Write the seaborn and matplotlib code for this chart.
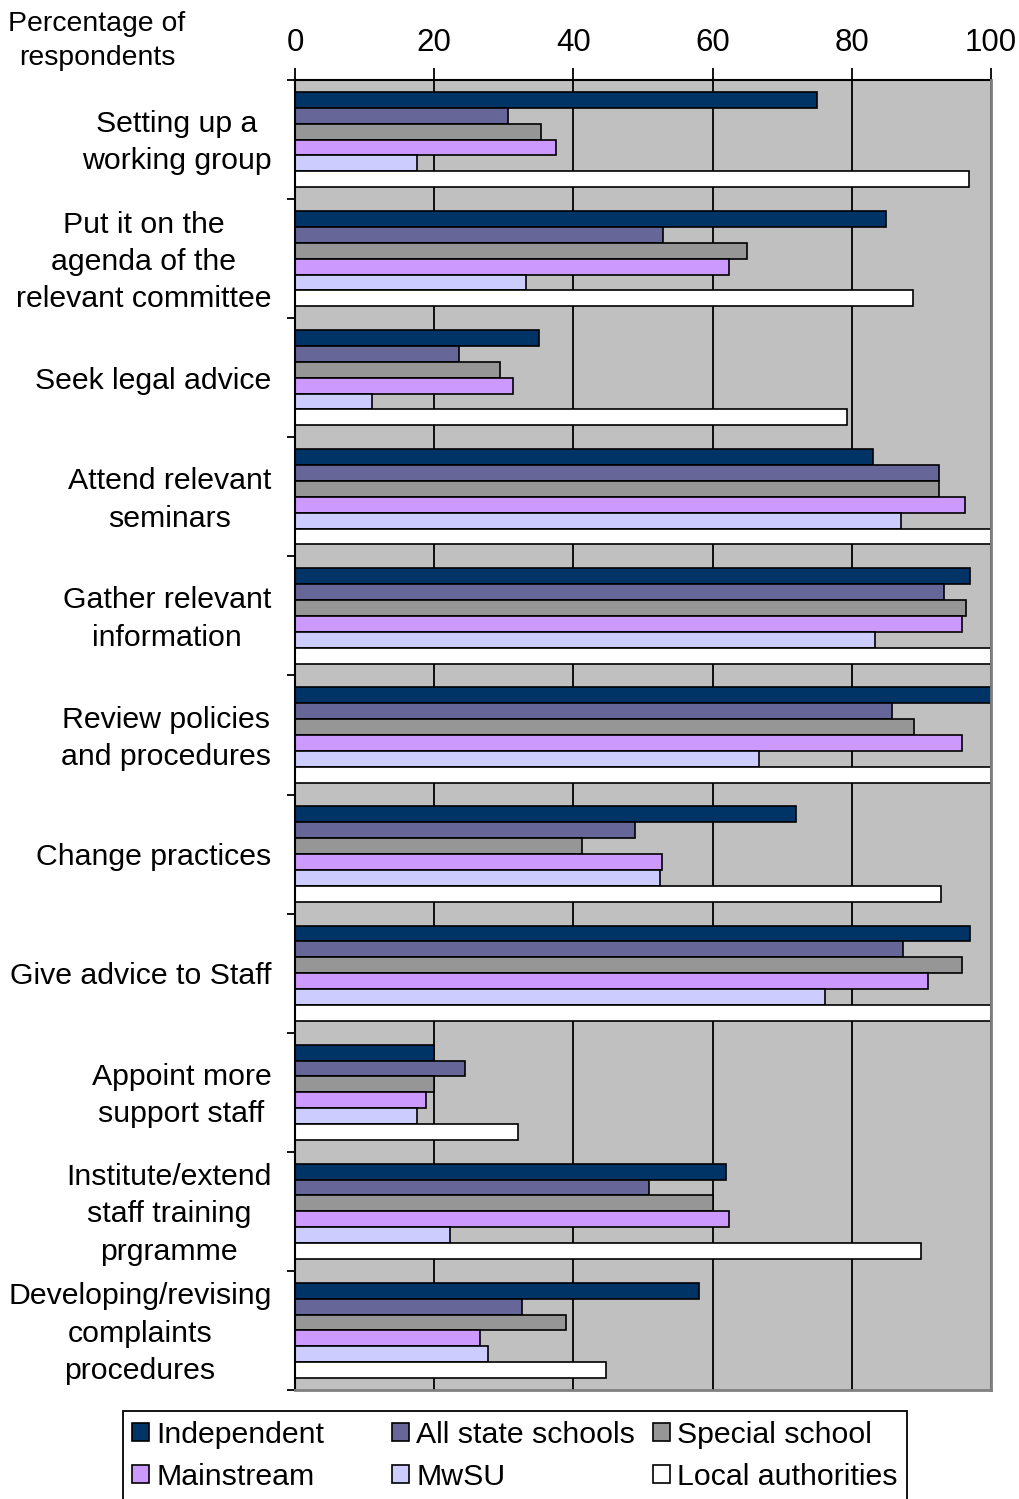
import numpy as np
import pandas as pd
import matplotlib
matplotlib.use("Agg")
import matplotlib.pyplot as plt
from matplotlib.patches import Rectangle, Patch
from matplotlib.ticker import FixedLocator
from matplotlib.transforms import ScaledTranslation
import seaborn as sns

# ---- data -------------------------------------------------------------
categories = [
    "Setting up a\nworking group",
    "Put it on the\nagenda of the\nrelevant committee",
    "Seek legal advice",
    "Attend relevant\nseminars",
    "Gather relevant\ninformation",
    "Review policies\nand procedures",
    "Change practices",
    "Give advice to Staff",
    "Appoint more\nsupport staff",
    "Institute/extend\nstaff training\nprgramme",
    "Developing/revising\ncomplaints\nprocedures",
]

series_names = ["Independent", "All state schools", "Special school",
                "Mainstream", "MwSU", "Local authorities"]

independent = [75.0, 84.9, 35.0, 83.0, 97.0, 100.0, 72.0, 97.0, 20.0, 61.9, 58.0]
all_state = [30.6, 52.9, 23.5, 92.6, 93.3, 85.8, 48.9, 87.3, 24.4, 50.8, 32.6]
special_school = [35.3, 65.0, 29.4, 92.6, 96.4, 89.0, 41.2, 95.8, 20.0, 60.0, 38.9]
mainstream = [37.5, 62.4, 31.3, 96.2, 95.8, 95.8, 52.8, 91.0, 18.8, 62.4, 26.6]
mwsu = [17.5, 33.2, 11.1, 87.0, 83.3, 66.6, 52.5, 76.1, 17.6, 22.2, 27.7]
local_authorities = [96.8, 88.8, 79.3, 100.0, 100.0, 100.0, 92.8, 100.0, 32.1, 89.9, 44.7]

x_ticks = [0, 20, 40, 60, 80, 100]

colors = ["#003366", "#666699", "#969696", "#CC99FF", "#CCCCFF", "#FFFFFF"]

values = [independent, all_state, special_school, mainstream, mwsu, local_authorities]
df = pd.DataFrame({
    "category": np.tile(categories, len(series_names)),
    "series": np.repeat(series_names, len(categories)),
    "value": np.concatenate(values),
})

# ---- style ------------------------------------------------------------
sns.set_theme(style="white")
plt.rcParams["font.family"] = ["Liberation Sans", "DejaVu Sans"]
plt.rcParams["text.color"] = "black"
plt.rcParams["xtick.color"] = "black"
plt.rcParams["ytick.color"] = "black"

FS = 21.8

fig = plt.figure(figsize=(10.2, 14.99), dpi=100)
ax = fig.add_axes([295 / 1020, 1 - 1390 / 1499, (991 - 295) / 1020, (1390 - 80) / 1499])
ax.set_facecolor("#C0C0C0")

sns.barplot(
    data=df, y="category", x="value", hue="series",
    order=categories, hue_order=series_names,
    palette=colors, saturation=1, orient="h", width=0.8,
    edgecolor="black", linewidth=1.2, legend=False, ax=ax,
)

# ---- axes -------------------------------------------------------------
ax.set_xlim(0, 100)
ax.set_ylim(len(categories) - 0.5, -0.5)
ax.set_xlabel("")
ax.set_ylabel("")

ax.xaxis.tick_top()
ax.set_xticks(x_ticks)
ax.set_xticklabels([str(t) for t in x_ticks], fontsize=22.5, color="black")
ax.tick_params(axis="x", which="major", direction="out", length=9,
               width=1.3, color="black", pad=7, top=True, bottom=False)

ax.set_axisbelow(True)
ax.xaxis.grid(True, color="black", linewidth=1.3)
ax.yaxis.grid(False)

# category labels centred in each band, boundary ticks on the left
ax.set_yticks(range(len(categories)))
ax.set_yticklabels(categories, fontsize=FS, color="black")
ax.yaxis.set_minor_locator(FixedLocator(np.arange(-0.5, len(categories), 1.0)))
ax.tick_params(axis="y", which="major", length=0, pad=17)
ax.tick_params(axis="y", which="minor", direction="out", length=6,
               width=1.3, color="black", left=True)
lift = ScaledTranslation(0, 4.5 / 100, fig.dpi_scale_trans)
for lbl in ax.get_yticklabels():
    lbl.set_multialignment("center")
    lbl.set_linespacing(1.42)
    if "\n" in lbl.get_text():
        lbl.set_transform(lbl.get_transform() + lift)

for side in ["top", "left"]:
    ax.spines[side].set_color("black")
    ax.spines[side].set_linewidth(1.5)
for side in ["right", "bottom"]:
    ax.spines[side].set_color("#808080")
    ax.spines[side].set_linewidth(2.0)
    ax.spines[side].set_zorder(3)

fig.text(97 / 1020, 1 - 41 / 1499, "Percentage of\nrespondents",
         ha="center", va="center", fontsize=20.4, linespacing=1.36, color="black")

# ---- legend: boxed, three columns ------------------------------------
handles = [Patch(facecolor=c, edgecolor="black", linewidth=1.2) for c in colors]
frame = Rectangle((123 / 1020, 1 - 1540 / 1499), (907 - 123) / 1020, (1540 - 1411) / 1499,
                  transform=fig.transFigure, facecolor="white", edgecolor="black",
                  linewidth=1.3, zorder=5)
fig.patches.append(frame)

col_x = [132, 392, 653]
for i, x0 in enumerate(col_x):
    idx = [i, i + 3]
    leg = fig.legend([handles[j] for j in idx], [series_names[j] for j in idx],
                     loc="upper left", bbox_to_anchor=(x0 / 1020, 1 - 1421 / 1499),
                     frameon=False, fontsize=FS, handlelength=0.55, handleheight=0.55,
                     handletextpad=0.25, labelspacing=0.45, borderpad=0.0,
                     borderaxespad=0.0)
    for t in leg.get_texts():
        t.set_color("black")
    leg.set_zorder(6)

fig.savefig("out.png", dpi=100)
